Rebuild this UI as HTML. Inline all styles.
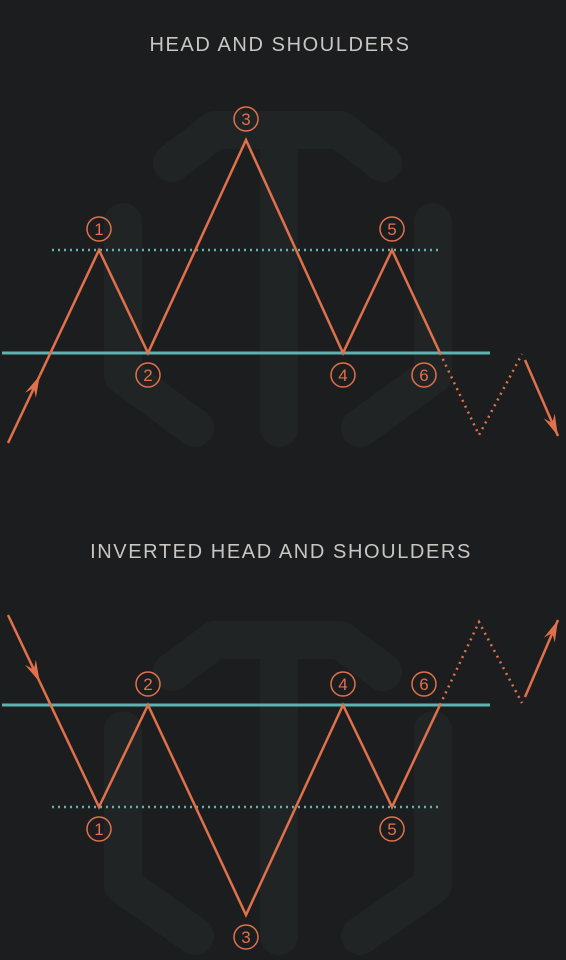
<!DOCTYPE html>
<html><head><meta charset="utf-8">
<style>
html,body{margin:0;padding:0;background:#1c1d1f;}
svg{display:block;}
text{font-family:"Liberation Sans",sans-serif;}
</style></head>
<body>
<svg id="chart" width="566" height="960" viewBox="0 0 566 960" xmlns="http://www.w3.org/2000/svg">
<rect width="566" height="960" fill="#1c1d1f"/>
<g id="wm1" stroke="#202425" stroke-width="38" stroke-linecap="round" stroke-linejoin="round" fill="none">
<path d="M172,163 L215,130 L340,130 L383,163"/><path d="M279,140 L279,428"/>
<path d="M123,222 L123,375 L195,428"/><path d="M433,222 L433,375 L360,428"/>
</g>
<g id="wm2" stroke="#202425" stroke-width="38" stroke-linecap="round" stroke-linejoin="round" fill="none">
<path d="M172,672 L215,640 L340,640 L383,672"/><path d="M279,650 L279,936"/>
<path d="M123,730 L123,885 L195,936"/><path d="M433,730 L433,885 L360,936"/>
</g>
<text x="280" y="51" text-anchor="middle" fill="#c9c6c2" font-size="20" letter-spacing="1.6">HEAD AND SHOULDERS</text>
<text x="281" y="558" text-anchor="middle" fill="#c9c6c2" font-size="20" letter-spacing="1.6">INVERTED HEAD AND SHOULDERS</text>
<g id="top"></g><g id="bot"></g>
</svg>
<script>
// time positions of pattern pivots
const times = [0.8, 9.9, 14.8, 24.6, 34.3, 39.2, 44.0, 47.9, 52.2, 55.8];
// price values (neckline = 0) for regular pattern
const topValues = [-0.9, 1.03, 0, 2.13, 0, 1.03, 0, -0.82, -0.01, -0.83];
// inverted pattern values
const botValues = [0.9, -1.02, 0, -2.1, 0, -1.02, 0, 0.83, 0.02, 0.85];
const labels = ["1","2","3","4","5","6"];
const neckLevel = 0;
const shoulderLevels = [1.03, -1.02];
const O = "#e0714a", T = "#5db3af";
const NS = "http://www.w3.org/2000/svg";
function xs(t){return t*10;}
function mk(tag, attrs, parent){const e=document.createElementNS(NS,tag);for(const k in attrs)e.setAttribute(k,attrs[k]);parent.appendChild(e);return e;}
function draw(gid, vals, baseY, shoulder, inv){
  const g=document.getElementById(gid);
  const ys=v=>baseY-v*100;
  const P=vals.map((v,i)=>[xs(times[i]),ys(v)]);
  const nl=mk("line",{x1:2,x2:490,y1:ys(neckLevel),y2:ys(neckLevel),stroke:T,"stroke-width":3},g);
  
  
  const sl=mk("line",{x1:52,x2:442,y1:ys(shoulder),y2:ys(shoulder),stroke:T,"stroke-width":2.5,"stroke-dasharray":"2 4"},g);
  
  
  const a0=P[0], a1=P[1];
  const mid=[a0[0]+(a1[0]-a0[0])*0.35, a0[1]+(a1[1]-a0[1])*0.35];
  const ar=mk("line",{x1:a0[0],y1:a0[1],x2:mid[0],y2:mid[1],stroke:O,"stroke-width":2.5},g);
  
  
  arrowHead(g,a0,mid);
  const pts=[mid].concat(P.slice(1,7));
  const pl=mk("polyline",{points:pts.map(p=>p.join(",")).join(" "),fill:"none",stroke:O,"stroke-width":2.5,"stroke-linejoin":"miter"},g);
  
  
  const dl=mk("polyline",{points:P.slice(6,9).map(p=>p.join(",")).join(" "),fill:"none",stroke:O,"stroke-width":2.5,"stroke-dasharray":"2 4.5"},g);
  
  
  const ex=mk("line",{x1:P[8][0]+3,y1:P[8][1]+(inv?-6:6),x2:P[9][0],y2:P[9][1],stroke:O,"stroke-width":2.5},g);
  
  
  arrowHead(g,P[8],P[9]);
  for(let i=0;i<6;i++){
    const p=P[i+1];
    const isPeak = (i%2===0)!==inv;
    let cx=p[0], cy=p[1]+(isPeak?-21:22);
    if(i===5) cx=p[0]-16;
    const c=mk("circle",{cx:cx,cy:cy,r:12,fill:"none",stroke:O,"stroke-width":1.5},g);
    
    
    const t=mk("text",{x:cx,y:cy+6,"text-anchor":"middle",fill:O,"font-size":17},g);
    t.textContent=labels[i];
    
    
  }
}
function arrowHead(g,from,to){
  const dx=to[0]-from[0], dy=to[1]-from[1], L=Math.hypot(dx,dy), ux=dx/L, uy=dy/L;
  const bx=to[0]-ux*22, by=to[1]-uy*22, px=-uy*6, py=ux*6;
  const h=mk("polygon",{points:`${to[0]},${to[1]} ${bx+px},${by+py} ${to[0]-ux*14},${to[1]-uy*14} ${bx-px},${by-py}`,fill:O},g);
  
  
}
draw("top",topValues,353,shoulderLevels[0],false);
draw("bot",botValues,705,shoulderLevels[1],true);
</script>
</body></html>
